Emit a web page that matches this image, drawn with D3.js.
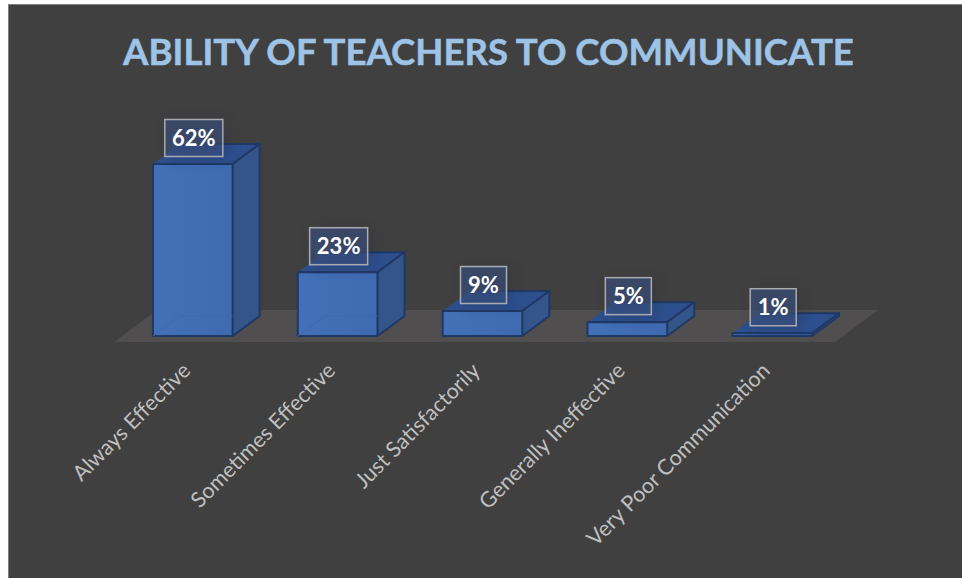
<!DOCTYPE html>
<html><head><meta charset="utf-8">
<script src="https://cdn.jsdelivr.net/npm/d3@7/dist/d3.min.js"></script>
<style>html,body{margin:0;padding:0;background:#fff}svg{display:block}text{font-family:Lato,sans-serif}</style>
</head><body><svg id="c" width="962" height="578"></svg>
<script>
const titleText = "ABILITY OF TEACHERS TO COMMUNICATE";
const categories = ["Always Effective","Sometimes Effective","Just Satisfactorily","Generally Ineffective","Very Poor Communication"];
const values = [62,23,9,5,1];

const svg = d3.select("#c");
const defs = svg.append("defs");
const f = defs.append("filter").attr("id","shadow").attr("x","-40%").attr("y","-40%").attr("width","180%").attr("height","180%");
f.append("feGaussianBlur").attr("stdDeviation",7);
const grad = defs.append("linearGradient").attr("id","front").attr("x1",0).attr("x2",1).attr("y1",0).attr("y2",0);
grad.append("stop").attr("offset","0%").attr("stop-color","#4370b8");
grad.append("stop").attr("offset","100%").attr("stop-color","#3f6ab0");

svg.append("rect").attr("x",8.5).attr("y",4.5).attr("width",962).attr("height",578)
  .attr("fill","#404040").attr("stroke","#7f7f7f").attr("stroke-width",1);

const baseY = 336, dx = 27, dy = -20;
const x = d3.scaleBand().domain(categories).range([124,841]).paddingInner(0.45).paddingOuter(0.2);
const y = d3.scaleLinear().domain([0,62]).range([baseY,164]);

svg.append("path").attr("d",d3.line()([[114,342],[157,310],[878,310],[835,342]])).attr("fill","#504e4e");

svg.append("text").attr("x",488.5).attr("y",65).attr("text-anchor","middle")
  .attr("font-size",36.6).attr("font-weight",700).attr("fill","#9dc3e6")
  .attr("stroke","#9dc3e6").attr("stroke-width",0.5).text(titleText);

const rows = categories.map((c,i)=>({c,v:values[i]}));
const edge = "#1f3864";
svg.selectAll("g.bar").data(rows).join("g").attr("class","bar").each(function(d){
  const s = d3.select(this), L = x(d.c), R = L + x.bandwidth(), T = y(d.v), B = baseY;
  const line = d3.line();
  s.append("path").attr("d",line([[L,T],[R,T],[R+dx,T+dy],[L+dx,T+dy]])).attr("fill","#2d4f8e").attr("stroke",edge).attr("stroke-width",2).attr("stroke-linejoin","round");
  s.append("path").attr("d",line([[R,T],[R+dx,T+dy],[R+dx,B+dy],[R,B]])).attr("fill","#335589").attr("stroke",edge).attr("stroke-width",2).attr("stroke-linejoin","round");
  s.append("rect").attr("x",L).attr("y",T).attr("width",R-L).attr("height",B-T).attr("fill","url(#front)").attr("stroke",edge).attr("stroke-width",2).attr("stroke-linejoin","round");
  if (B-T > 30) s.append("path").attr("d",line([[L,B],[L+dx,B+dy],[R,B+dy]])).attr("fill","none").attr("stroke","#3f69ad").attr("stroke-width",1);
});

svg.selectAll("g.lab").data(rows).join("g").attr("class","lab").each(function(d){
  const s = d3.select(this), t = d.v + "%", w = t.length>2 ? 58 : 46, h = 37;
  const cx = x(d.c) + x.bandwidth()/2 + 1, top = y(d.v) - 44.5;
  s.append("rect").attr("x",cx-w/2+4).attr("y",top+2).attr("width",w).attr("height",h)
    .attr("fill","#1c2438").attr("opacity",0.28).attr("filter","url(#shadow)");
  s.append("rect").attr("x",cx-w/2).attr("y",top).attr("width",w).attr("height",h)
    .attr("fill","#3a5080").attr("fill-opacity",0.62).attr("stroke","#a9abb0").attr("stroke-width",1.5);
  s.append("text").attr("x",cx).attr("y",top+26.5).attr("text-anchor","middle")
    .attr("font-size",22).attr("font-weight",700).attr("fill","#fff").text(t);
});

svg.selectAll("text.cat").data(categories).join("text").attr("class","cat")
  .attr("text-anchor","end").attr("font-size",21.6).attr("font-weight",400).attr("fill","#bfbfbf")
  .attr("transform",d=>`translate(${x(d)+x.bandwidth()/2-1},${372}) rotate(-45)`).text(d=>d);
</script></body></html>
